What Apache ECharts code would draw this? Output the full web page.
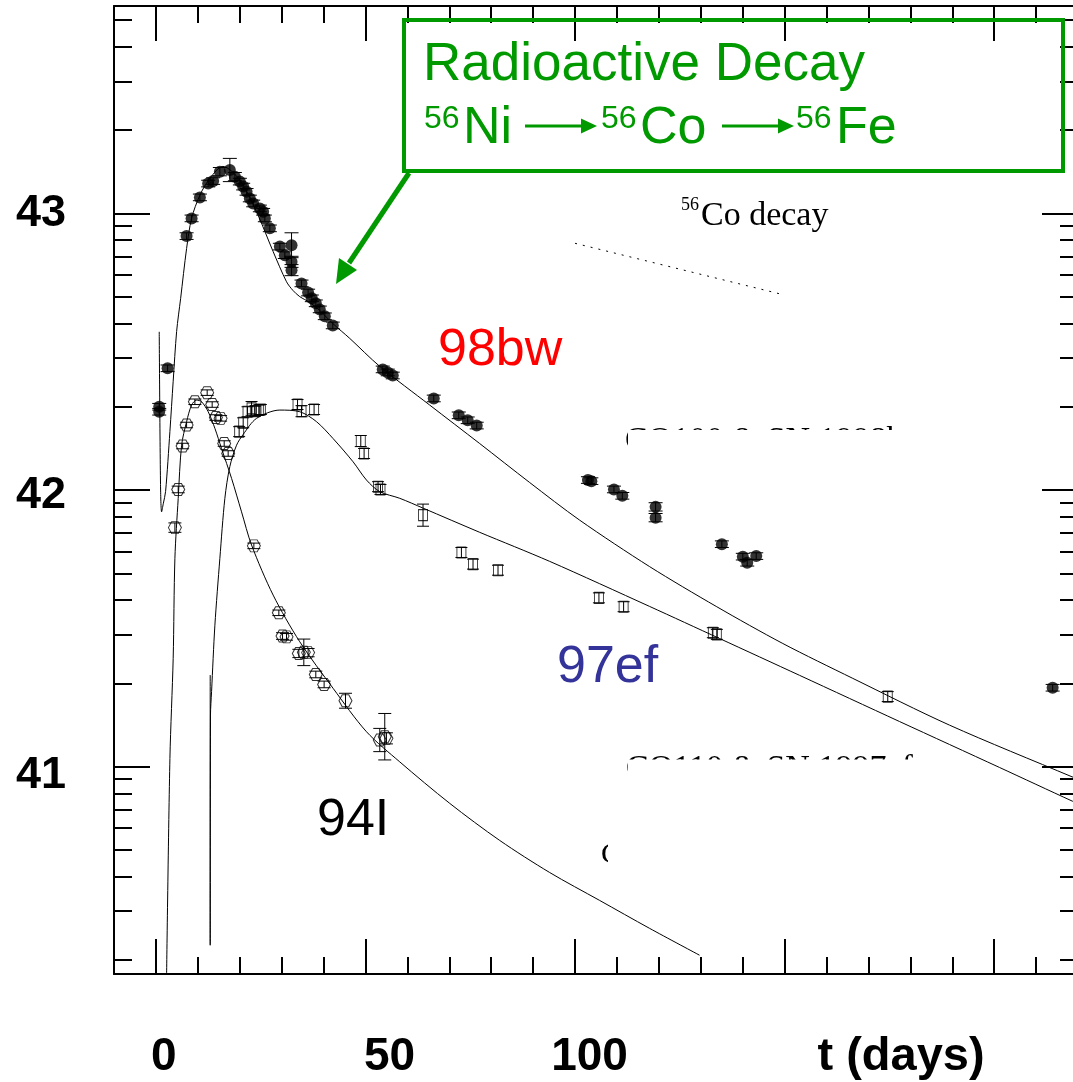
<!DOCTYPE html>
<html>
<head>
<meta charset="utf-8">
<title>SN light curves</title>
<script src="https://cdn.jsdelivr.net/npm/echarts@6.0.0/dist/echarts.min.js"></script>
<style>
  html, body { margin: 0; padding: 0; background: #fff; }
  #chart { width: 1073px; height: 1082px; }
</style>
</head>
<body>
<div id="chart"></div>
<script>
// ---- observed points (t in days, log L) ----
const sn98bwDays = [0.79, 0.79, 2.79, 7.32, 8.51, 10.49, 12.47, 13.66, 15.26, 17.64, 18.84, 20.03, 20.82, 21.63, 22.41, 23.21, 24.8, 25.58, 25.99, 27.18, 29.57, 30.76, 32.36, 32.36, 32.36, 34.74, 36.31, 37.2, 38.15, 39.1, 40.3, 42.2, 54.12, 55.32, 56.51, 66.29, 72.25, 74.39, 76.54, 103.08, 103.89, 109.28, 111.28, 119.22, 119.22, 135.03, 140.03, 141.08, 143.23, 213.95]
const sn98bwLogL = [42.301, 42.283, 42.44, 42.918, 42.982, 43.058, 43.108, 43.117, 43.151, 43.157, 43.133, 43.115, 43.097, 43.078, 43.054, 43.036, 43.018, 43.006, 42.982, 42.946, 42.88, 42.849, 42.885, 42.825, 42.795, 42.747, 42.714, 42.693, 42.675, 42.653, 42.628, 42.595, 42.436, 42.425, 42.414, 42.331, 42.27, 42.252, 42.233, 42.036, 42.032, 42.002, 41.979, 41.939, 41.9, 41.804, 41.759, 41.737, 41.761, 41.285]
const sn98bwErr = [0.012, 0.012, 0.012, 0.012, 0.012, 0.012, 0.012, 0.012, 0.015, 0.042, 0.015, 0.012, 0.012, 0.012, 0.012, 0.012, 0.012, 0.012, 0.012, 0.012, 0.012, 0.012, 0.045, 0.02, 0.02, 0.012, 0.012, 0.012, 0.012, 0.012, 0.012, 0.012, 0.012, 0.012, 0.012, 0.012, 0.012, 0.012, 0.012, 0.012, 0.012, 0.012, 0.012, 0.015, 0.015, 0.012, 0.012, 0.012, 0.012, 0.012]

const sn97efDays = [19.86, 20.82, 21.86, 22.82, 23.61, 24.56, 25.04, 33.79, 34.74, 37.74, 48.88, 49.67, 53.0, 53.58, 63.73, 72.89, 75.66, 81.62, 105.7, 111.59, 132.88, 133.83, 174.61]
const sn97efLogL = [42.211, 42.243, 42.283, 42.295, 42.285, 42.289, 42.291, 42.309, 42.285, 42.291, 42.177, 42.132, 42.012, 42.002, 41.909, 41.774, 41.732, 41.71, 41.61, 41.578, 41.484, 41.478, 41.253]
const sn97efErr = [0.018, 0.018, 0.018, 0.025, 0.018, 0.018, 0.018, 0.018, 0.02, 0.018, 0.02, 0.018, 0.018, 0.018, 0.04, 0.018, 0.018, 0.018, 0.018, 0.018, 0.018, 0.018, 0.018]

const sn94IDays = [4.53, 5.32, 6.37, 7.32, 9.3, 12.23, 13.42, 14.31, 15.43, 16.29, 17.24, 23.37, 29.33, 30.21, 31.16, 34.1, 35.29, 36.31, 38.15, 40.13, 45.23, 53.41, 54.6, 55.0]
const sn94ILogL = [41.864, 42.002, 42.159, 42.235, 42.319, 42.352, 42.309, 42.262, 42.259, 42.168, 42.132, 41.798, 41.556, 41.472, 41.469, 41.409, 41.413, 41.412, 41.333, 41.297, 41.238, 41.096, 41.108, 41.102]
const sn94IErr = [0.017, 0.012, 0.01, 0.01, 0.01, 0.01, 0.01, 0.01, 0.01, 0.01, 0.01, 0.01, 0.01, 0.012, 0.012, 0.015, 0.048, 0.015, 0.012, 0.012, 0.027, 0.042, 0.084, 0.02]

// ---- model curves ----
const model98bwDays = [0.79, 1.1, 1.36, 1.75, 2.31, 3.34, 4.12, 4.94, 5.9, 7.32, 8.51, 10.49, 12.88, 15.98, 20.03, 24.01, 27.97, 31.16, 32.67, 34.33, 36.72, 39.1, 42.2, 46.26, 53.41, 65.33, 77.25, 89.18, 101.1, 117.79, 133.69, 149.57, 166.26, 189.32, 218.57, 220]
const model98bwLogL = [42.572, 42.02, 41.921, 41.95, 41.995, 42.212, 42.393, 42.573, 42.693, 42.873, 42.982, 43.066, 43.127, 43.17, 43.12, 43.006, 42.862, 42.753, 42.722, 42.699, 42.678, 42.649, 42.602, 42.548, 42.447, 42.307, 42.168, 42.027, 41.891, 41.723, 41.579, 41.445, 41.319, 41.15, 40.963, 40.955]

const model97efDays = [12.95, 12.95, 13.02, 13.28, 14.07, 15.26, 16.45, 17.64, 19.24, 20.82, 24.01, 29.57, 34.33, 38.32, 42.27, 47.04, 50.24, 53.41, 58.18, 63.66, 77.25, 93.94, 117.79, 134.48, 153.55, 177.4, 201.24, 218.65, 220]
const model97efLogL = [41.331, 40.354, 41.186, 41.271, 41.511, 41.753, 41.97, 42.085, 42.162, 42.201, 42.259, 42.289, 42.283, 42.247, 42.186, 42.102, 42.036, 41.994, 41.97, 41.935, 41.847, 41.742, 41.579, 41.463, 41.33, 41.163, 40.997, 40.875, 40.867]

const model94IDays = [2.55, 3.34, 4.12, 4.53, 5.32, 6.13, 7.32, 8.51, 9.7, 10.9, 12.47, 14.07, 15.66, 18.05, 20.43, 22.82, 27.97, 34.33, 42.27, 50.24, 58.18, 70.1, 82.02, 93.94, 105.87, 117.79, 129.7]
const model94ILogL = [40.25, 41.029, 41.391, 41.753, 41.97, 42.162, 42.247, 42.307, 42.325, 42.319, 42.283, 42.223, 42.15, 42.042, 41.921, 41.801, 41.62, 41.451, 41.283, 41.126, 41.017, 40.867, 40.733, 40.617, 40.516, 40.415, 40.318]

// 56Co decay slope guide
const coDecayDays = [100, 150]
const coDecayLogL = [42.892, 42.705]

// ---- axes ----
const xMajorTicks = [0, 50, 100, 150, 200]
const xMinorTicks = [10, 20, 30, 40, 60, 70, 80, 90, 110, 120, 130, 140, 160, 170, 180, 190, 210]
const xTickLabels = ["0", "50", "100"]
const yMajorTicks = [41, 42, 43]
const yTickLabels = ["41", "42", "43"]
const yMinorTicks = []
for (const d of [40, 41, 42, 43]) {
  for (let k = 2; k <= 9; k++) {
    const v = d + Math.log10(k)
    if (v > 40.25 && v < 43.75) yMinorTicks.push(v)
  }
}

const zip = (a, b, c) => a.map((v, i) => (c ? [v, b[i], c[i]] : [v, b[i]]))

const chart = echarts.init(document.getElementById("chart"))

const SANS = "Liberation Sans, Arial, sans-serif"
const SERIF = "Liberation Serif, Times New Roman, serif"
const GREEN = "#009900"

const boldLabel = (pad) => ({ fontFamily: SANS, fontWeight: "bold", fontSize: 46, color: "#000", padding: pad })

function xAxisDef(position, ticks, len, withLine, withLabel) {
  return {
    type: "value",
    position: position,
    min: -10,
    max: 220,
    axisLine: { show: withLine, onZero: false, lineStyle: { color: "#000", width: 2 } },
    axisTick: { show: true, inside: true, length: len, customValues: ticks, lineStyle: { color: "#000", width: 2 } },
    axisLabel: withLabel
      ? {
          show: true,
          customValues: [0, 50, 100],
          margin: 60,
          formatter: (v) => {
            const i = [0, 50, 100].indexOf(Math.round(v))
            return "{l" + i + "|" + xTickLabels[i] + "}"
          },
          rich: {
            l0: boldLabel([0, 0, 0, 16]),
            l1: boldLabel([0, 0, 0, 48]),
            l2: boldLabel([0, 0, 0, 29]),
          },
        }
      : { show: false },
    splitLine: { show: false },
  }
}

function yAxisDef(position, ticks, len, withLine, withLabel) {
  return {
    type: "value",
    position: position,
    min: 40.25,
    max: 43.75,
    axisLine: { show: withLine, onZero: false, lineStyle: { color: "#000", width: 2 } },
    axisTick: { show: true, inside: true, length: len, customValues: ticks, lineStyle: { color: "#000", width: 2 } },
    axisLabel: withLabel
      ? {
          show: true,
          customValues: yMajorTicks,
          margin: 48,
          formatter: (v) => {
            const i = yMajorTicks.indexOf(Math.round(v))
            return "{m" + i + "|" + yTickLabels[i] + "}"
          },
          rich: {
            m0: Object.assign(boldLabel([18, 0, 0, 0]), { fontSize: 45 }),
            m1: Object.assign(boldLabel([12, 0, 0, 0]), { fontSize: 45 }),
            m2: Object.assign(boldLabel([0, 0, 0, 0]), { fontSize: 45 }),
          },
        }
      : { show: false },
    splitLine: { show: false },
  }
}

function errorBars(capWidth) {
  return function (params, api) {
    const x = api.value(0), y = api.value(1), e = api.value(2)
    const hi = api.coord([x, y + e])
    const lo = api.coord([x, y - e])
    const h = capWidth / 2
    const style = { stroke: "#000", lineWidth: 1 }
    return {
      type: "group",
      children: [
        { type: "line", shape: { x1: hi[0], y1: hi[1], x2: lo[0], y2: lo[1] }, style },
        { type: "line", shape: { x1: hi[0] - h, y1: hi[1], x2: hi[0] + h, y2: hi[1] }, style },
        { type: "line", shape: { x1: lo[0] - h, y1: lo[1], x2: lo[0] + h, y2: lo[1] }, style },
      ],
    }
  }
}

const hexagon = "path://M-1,0 L-0.5,-0.866 L0.5,-0.866 L1,0 L0.5,0.866 L-0.5,0.866 Z"

const modelLine = (name, days, logL) => ({
  name,
  type: "line",
  data: zip(days, logL),
  showSymbol: false,
  smooth: 0.3,
  z: 3,
  lineStyle: { color: "#000", width: 1 },
})

const txt = (text, x, y, font, fill, extra) => ({
  type: "text",
  x,
  y,
  z: 10,
  style: Object.assign({ text, font, fill, align: "left", verticalAlign: "middle" }, extra || {}),
})

const option = {
  animation: false,
  backgroundColor: "#fff",
  grid: { left: 114, top: 6, width: 964, height: 968, containLabel: false, outerBoundsMode: "none" },
  xAxis: [
    xAxisDef("bottom", xMajorTicks, 35, true, true),
    xAxisDef("bottom", xMinorTicks, 17, false, false),
    xAxisDef("top", xMajorTicks, 35, true, false),
    xAxisDef("top", xMinorTicks, 17, false, false),
  ],
  yAxis: [
    yAxisDef("left", yMajorTicks, 36, true, true),
    yAxisDef("left", yMinorTicks, 18, false, false),
    yAxisDef("right", yMajorTicks, 36, true, false),
    yAxisDef("right", yMinorTicks, 18, false, false),
  ],
  series: [
    modelLine("98bw model", model98bwDays, model98bwLogL),
    modelLine("97ef model", model97efDays, model97efLogL),
    modelLine("94I model", model94IDays, model94ILogL),
    {
      name: "56Co decay",
      type: "line",
      data: zip(coDecayDays, coDecayLogL),
      showSymbol: false,
      z: 3,
      lineStyle: { color: "#000", width: 1, type: [2, 6] },
    },
    {
      name: "98bw",
      type: "scatter",
      data: zip(sn98bwDays, sn98bwLogL),
      symbol: "circle",
      symbolSize: 12,
      z: 4,
      itemStyle: { color: "#000" },
    },
    {
      name: "97ef",
      type: "scatter",
      data: zip(sn97efDays, sn97efLogL),
      symbol: "rect",
      symbolSize: [9, 11],
      z: 4,
      itemStyle: { color: "rgba(0,0,0,0)", borderColor: "#000", borderWidth: 1 },
    },
    {
      name: "94I",
      type: "scatter",
      data: zip(sn94IDays, sn94ILogL),
      symbol: hexagon,
      symbolSize: [13, 12],
      z: 4,
      itemStyle: { color: "rgba(0,0,0,0)", borderColor: "#000", borderWidth: 1 },
    },
    { type: "custom", data: zip(sn98bwDays, sn98bwLogL, sn98bwErr), renderItem: errorBars(14), encode: { x: 0, y: 1 }, z: 5 },
    { type: "custom", data: zip(sn97efDays, sn97efLogL, sn97efErr), renderItem: errorBars(12), encode: { x: 0, y: 1 }, z: 5 },
    { type: "custom", data: zip(sn94IDays, sn94ILogL, sn94IErr), renderItem: errorBars(13), encode: { x: 0, y: 1 }, z: 5 },
  ],
  graphic: [
    // half-hidden leftover labels
    { type: "text", x: 625, y: 441, z: 1, style: { text: "CO100 & SN 1998bw", font: "34px " + SERIF, fill: "#000", verticalAlign: "middle" } },
    { type: "rect", z: 2, shape: { x: 628, y: 430, width: 340, height: 34 }, style: { fill: "#fff" } },
    { type: "text", x: 626, y: 769, z: 1, style: { text: "CO110 & SN 1997ef", font: "34px " + SERIF, fill: "#000", verticalAlign: "middle" } },
    { type: "rect", z: 2, shape: { x: 628, y: 759.5, width: 330, height: 34 }, style: { fill: "#fff" } },
    { type: "text", x: 601, y: 855, z: 1, style: { text: "C", font: "30px " + SERIF, fill: "#000", verticalAlign: "middle" } },
    { type: "rect", z: 2, shape: { x: 608, y: 835, width: 30, height: 40 }, style: { fill: "#fff" } },

    // supernova names
    txt("98bw", 438, 351, "52px " + SANS, "#ff0000"),
    txt("97ef", 557, 668, "52px " + SANS, "#333399"),
    txt("94I", 317, 821, "52px " + SANS, "#000"),

    // 56Co decay note
    txt("56", 681, 205, "18px " + SERIF, "#000"),
    txt("Co decay", 701, 216, "34px " + SERIF, "#000"),

    // x axis title
    txt("t (days)", 901, 1057, "bold 47px " + SANS, "#000", { align: "center" }),

    // green box
    { type: "rect", z: 10, shape: { x: 404, y: 20, width: 659, height: 151 }, style: { fill: "none", stroke: GREEN, lineWidth: 4 } },
    txt("Radioactive Decay", 423, 65, "53px " + SANS, GREEN),
    txt("56", 424, 119, "32px " + SANS, GREEN),
    txt("Ni", 463, 129, "52px " + SANS, GREEN),
    { type: "line", z: 10, shape: { x1: 525, y1: 126, x2: 584, y2: 126 }, style: { stroke: GREEN, lineWidth: 3 } },
    { type: "polygon", z: 10, shape: { points: [[597, 126], [581, 118.5], [581, 133.5]] }, style: { fill: GREEN } },
    txt("56", 601, 119, "32px " + SANS, GREEN),
    txt("Co", 640, 129, "52px " + SANS, GREEN),
    { type: "line", z: 10, shape: { x1: 722, y1: 126, x2: 781, y2: 126 }, style: { stroke: GREEN, lineWidth: 3 } },
    { type: "polygon", z: 10, shape: { points: [[794, 126], [778, 118.5], [778, 133.5]] }, style: { fill: GREEN } },
    txt("56", 796, 119, "32px " + SANS, GREEN),
    txt("Fe", 836, 129, "52px " + SANS, GREEN),

    // green pointer
    { type: "line", z: 10, shape: { x1: 409, y1: 173, x2: 349, y2: 263 }, style: { stroke: GREEN, lineWidth: 5 } },
    { type: "polygon", z: 10, shape: { points: [[336, 284], [357, 270], [339, 258]] }, style: { fill: GREEN } },
  ],
}

chart.setOption(option)
window.addEventListener("resize", () => chart.resize())
</script>
</body>
</html>
